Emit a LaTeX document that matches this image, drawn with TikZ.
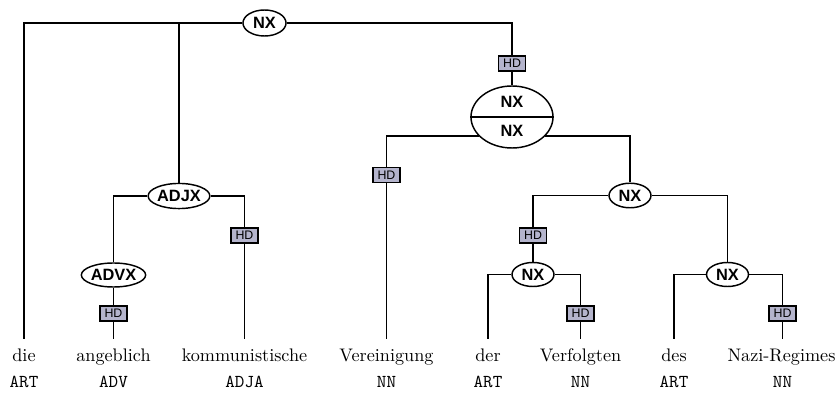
\documentclass[tikz,border=0pt]{standalone}
\usepackage{fontspec}
\newfontfamily\labfont{Liberation Sans}
\usetikzlibrary{shapes.geometric}
\definecolor{hdfill}{HTML}{B4B4CC}
\begin{document}
\begin{tikzpicture}[x=0.55pt,y=-0.55pt,line width=0.8pt,
  cat/.style={ellipse,draw,fill=white,inner sep=0pt,font=\labfont\bfseries\fontsize{9}{10}\selectfont},
  hdbox/.style={rectangle,draw,fill=hdfill,inner sep=0pt,minimum width=14.8pt,minimum height=8.2pt,font=\labfont\fontsize{6.8}{7}\selectfont},
  word/.style={anchor=base,inner sep=0pt,font=\fontsize{10}{12}\selectfont},
  tag/.style={anchor=base,inner sep=0pt,font=\ttfamily\fontsize{10}{12}\selectfont},
  biglab/.style={font=\labfont\bfseries\fontsize{9}{10}\selectfont}]
\useasboundingbox (0,0) rectangle (840,394);
% nodes
\node[cat,minimum width=23.7pt,minimum height=14.3pt] (root) at (264.5,23) {NX};
\node[hdbox] (hd1) at (512,63.5) {HD};
\node[ellipse,draw,fill=white,minimum width=45.1pt,minimum height=34.1pt,inner sep=0pt] (big) at (512,117) {};
\draw (big.west) -- (big.east);
\node[biglab] (bigu) at (512,102) {NX};
\node[biglab] (bigl) at (512,131) {NX};
\node[hdbox] (hd2) at (386.5,175) {HD};
\node[cat,minimum width=23.1pt,minimum height=13.5pt] (nx2) at (630,195.5) {NX};
\node[hdbox] (hd3) at (533,235.5) {HD};
\node[cat,minimum width=23.1pt,minimum height=13.2pt] (nx3) at (533,274.5) {NX};
\node[cat,minimum width=23.1pt,minimum height=13.2pt] (nx4) at (727.5,274.5) {NX};
\node[hdbox] (hd4) at (580.5,313.5) {HD};
\node[hdbox] (hd5) at (782.5,313.5) {HD};
\node[cat,minimum width=28.6pt,minimum height=13.8pt] (adjx) at (179,196) {ADJX};
\node[cat,minimum width=33.5pt,minimum height=13.2pt] (advx) at (113.5,275) {ADVX};
\node[hdbox] (hd6) at (113.5,313.5) {HD};
\node[hdbox] (hd7) at (244.5,235.5) {HD};
% word tops
\coordinate (w1) at (24,339);
\coordinate (w2) at (113.5,339);
\coordinate (w3) at (244.5,339);
\coordinate (w4) at (386.5,339);
\coordinate (w5) at (488,339);
\coordinate (w6) at (580.5,339);
\coordinate (w7) at (674,339);
\coordinate (w8) at (782.5,339);
\coordinate (j1) at (179,23);
% words
\node[word] (t1) at (24,362) {die};
\node[word] (t2) at (113.5,362) {angeblich};
\node[word] (t3) at (244.5,362) {kommunistische};
\node[word] (t4) at (386.5,362) {Vereinigung};
\node[word] (t5) at (488,362) {der};
\node[word] (t6) at (580.5,362) {Verfolgten};
\node[word] (t7) at (674,362) {des};
\node[word] (t8) at (781.5,362) {Nazi-Regimes};
\node[tag] (p1) at (24,388) {ART};
\node[tag] (p2) at (113.5,388) {ADV};
\node[tag] (p3) at (244.5,388) {ADJA};
\node[tag] (p4) at (386.5,388) {NN};
\node[tag] (p5) at (488,388) {ART};
\node[tag] (p6) at (580.5,388) {NN};
\node[tag] (p7) at (674,388) {ART};
\node[tag] (p8) at (782.5,388) {NN};
% edges
\draw (root.west) -| (w1);
\draw (j1) -- (adjx.north);
\draw (root.east) -| (hd1.north);
\draw (hd1.south) -- (big.north);
\draw (big.210) -| (hd2.north);
\draw (hd2.south) -- (w4);
\draw (big.330) -| (nx2.north);
\draw (nx2.west) -| (hd3.north);
\draw (hd3.south) -- (nx3.north);
\draw (nx2.east) -| (nx4.north);
\draw (nx3.west) -| (w5);
\draw (nx3.east) -| (hd4.north);
\draw (hd4.south) -- (w6);
\draw (nx4.west) -| (w7);
\draw (nx4.east) -| (hd5.north);
\draw (hd5.south) -- (w8);
\draw (adjx.west) -| (advx.north);
\draw (advx.south) -- (hd6.north);
\draw (hd6.south) -- (w2);
\draw (adjx.east) -| (hd7.north);
\draw (hd7.south) -- (w3);
\end{tikzpicture}
\end{document}
